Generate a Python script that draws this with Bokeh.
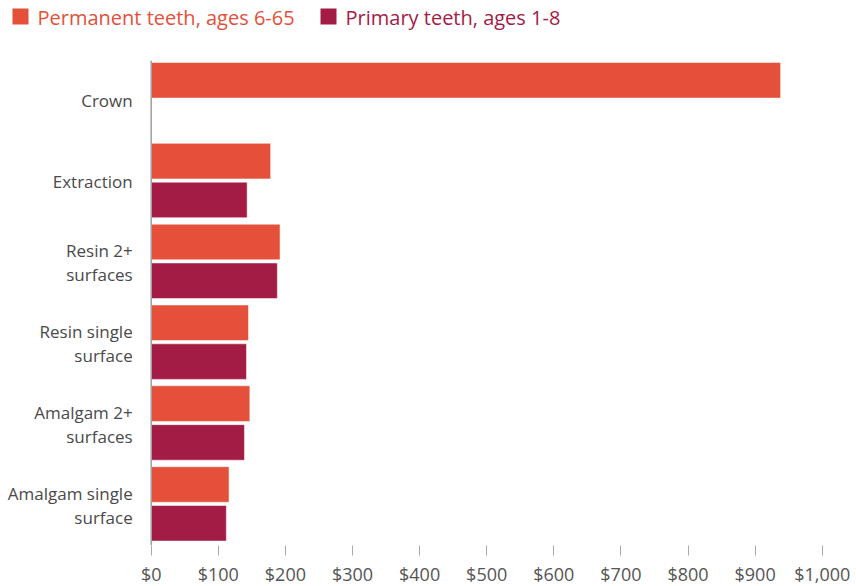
from bokeh.plotting import figure
from bokeh.models import Range1d, FixedTicker, ColumnDataSource, Span
from bokeh.layouts import column
from bokeh.embed import file_html
from bokeh.resources import INLINE
from bokeh.core.properties import value

# ---- data ----
categories = ["Crown", "Extraction", "Resin 2+ surfaces", "Resin single surface",
              "Amalgam 2+ surfaces", "Amalgam single surface"]
category_labels = ["Crown", "Extraction", "Resin 2+\nsurfaces", "Resin single\nsurface",
                   "Amalgam 2+\nsurfaces", "Amalgam single\nsurface"]
permanent = [938, 178, 192, 145, 147, 116]
primary = [None, 143, 188, 142, 139, 112]
series_names = ["Permanent teeth, ages 6-65", "Primary teeth, ages 1-8"]
x_ticks = [0, 100, 200, 300, 400, 500, 600, 700, 800, 900, 1000]
x_tick_labels = ["$0", "$100", "$200", "$300", "$400", "$500", "$600", "$700",
                 "$800", "$900", "$1,000"]

# ---- style ----
PERM = "#E4503A"
PRIM = "#A31C45"
FONT = "Open Sans"
perm_off, prim_off, bar_h = 0.245, 0.725, 0.44
W = 856

# ---- legend strip ----
leg = figure(width=W, height=40, x_range=Range1d(0, W), y_range=Range1d(40, 0),
             output_backend="svg", toolbar_location=None, min_border=0,
             x_axis_location=None, y_axis_location=None)
leg.outline_line_color = None
leg.xgrid.visible = False
leg.ygrid.visible = False
leg_x = [12, 320]
leg_cols = [PERM, PRIM]
leg.quad(left=leg_x, right=[x + 16 for x in leg_x], top=[8, 8], bottom=[24, 24],
         fill_color=leg_cols, line_color=None)
leg.text(x=[x + 25 for x in leg_x], y=[17, 17], text=series_names, text_color=leg_cols,
         text_font=value(FONT), text_font_size="20px", text_baseline="middle", text_align="left")

# ---- main chart ----
px_per_unit = 0.671
zero_px = 150.7
p = figure(frame_width=W, frame_height=485,
           x_range=Range1d(-zero_px / px_per_unit, (W - zero_px) / px_per_unit),
           y_range=Range1d(6, 0),
           output_backend="svg", toolbar_location=None, y_axis_location=None,
           min_border_left=0, min_border_right=0, min_border_top=20, min_border_bottom=41)
p.outline_line_color = None
p.xgrid.visible = False
p.ygrid.visible = False

idx = list(range(len(categories)))
src_perm = ColumnDataSource(dict(y=[i + perm_off for i in idx], v=permanent, cat=categories))
pi = [i for i in idx if primary[i] is not None]
src_prim = ColumnDataSource(dict(y=[i + prim_off for i in pi], v=[primary[i] for i in pi],
                                 cat=[categories[i] for i in pi]))
p.hbar(y="y", left=0, right="v", height=bar_h, source=src_perm, fill_color=PERM,
       line_color="white", line_alpha=0.5, line_width=1)
p.hbar(y="y", left=0, right="v", height=bar_h, source=src_prim, fill_color=PRIM,
       line_color="white", line_alpha=0.5, line_width=1)

# vertical axis line at $0
p.add_layout(Span(location=0, dimension="height", line_color="#a0a0a0", line_width=1.5))

# category labels
src_lab = ColumnDataSource(dict(x=[-18.5 / px_per_unit] * len(idx), y=[i + 0.5 for i in idx],
                                t=category_labels))
p.text(x="x", y="y", text="t", source=src_lab, text_align="right", text_baseline="middle",
       text_font=value(FONT), text_font_size="17px", text_color="#4a4a4a",
       text_line_height=1.05)

# x axis
xa = p.xaxis[0]
xa.ticker = FixedTicker(ticks=x_ticks)
xa.major_label_overrides = {t: l for t, l in zip(x_ticks, x_tick_labels)}
xa.axis_line_color = None
xa.major_tick_line_color = "#aaaaaa"
xa.major_tick_in = 0
xa.major_tick_out = 10
xa.minor_tick_line_color = None
xa.major_label_text_font = FONT
xa.major_label_text_font_size = "18px"
xa.major_label_text_color = "#555555"
xa.major_label_standoff = 6

layout = column(leg, p, spacing=0)
open("out.html", "w").write(file_html(layout, INLINE))
